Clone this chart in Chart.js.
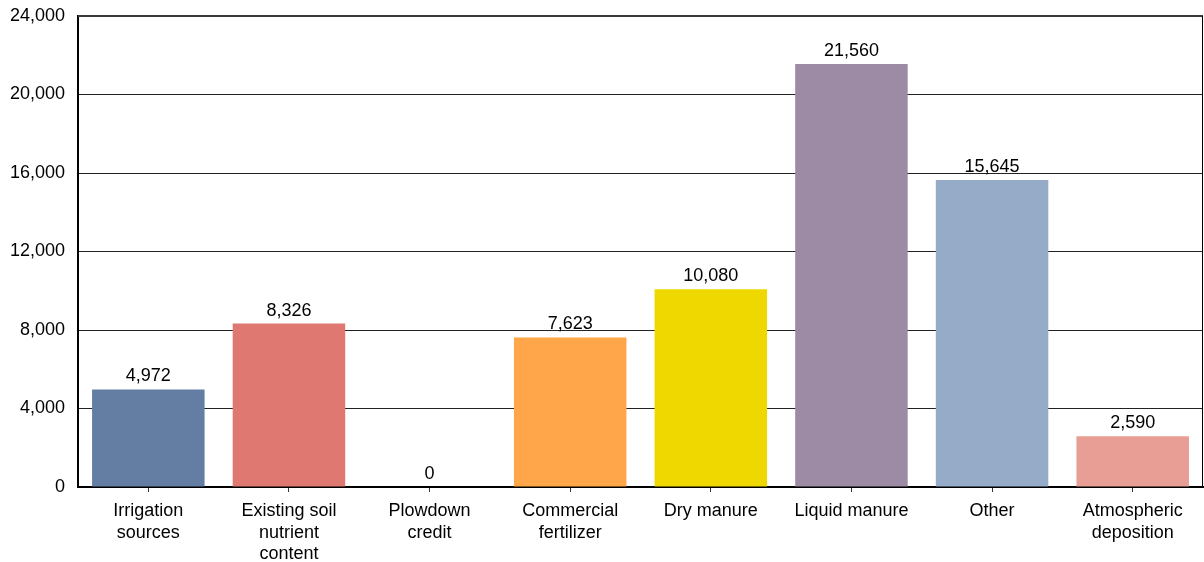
<!DOCTYPE html>
<html>
<head>
<meta charset="utf-8">
<script src="https://cdn.jsdelivr.net/npm/chart.js@4/dist/chart.umd.min.js"></script>
<style>
  html, body { margin: 0; padding: 0; background: #fff; }
  #wrap { width: 1204px; height: 562px; position: relative; }
</style>
</head>
<body>
<div id="wrap"><canvas id="chart" width="1204" height="562"></canvas></div>
<script>
const categories = [
  ["Irrigation", "sources"],
  ["Existing soil", "nutrient", "content"],
  ["Plowdown", "credit"],
  ["Commercial", "fertilizer"],
  ["Dry manure"],
  ["Liquid manure"],
  ["Other"],
  ["Atmospheric", "deposition"]
];
const values = [4972, 8326, 0, 7623, 10080, 21560, 15645, 2590];
const barColors = ["#647da3", "#e07872", "#9aa0b0", "#ffa64b", "#eed800", "#9d8aa5", "#95abc8", "#e89e94"];
const yTicks = [0, 4000, 8000, 12000, 16000, 20000, 24000];

const fmt = (n) => n.toLocaleString("en-US");
const FONT = "'Liberation Sans', Arial, sans-serif";

// value labels above bars + top/right frame
const extras = {
  id: "extras",
  afterDatasetsDraw(chart) {
    const { ctx, chartArea: a } = chart;
    const meta = chart.getDatasetMeta(0);
    ctx.save();
    ctx.fillStyle = "#000";
    ctx.font = `18px ${FONT}`;
    ctx.textAlign = "center";
    ctx.textBaseline = "bottom";
    meta.data.forEach((bar, i) => {
      ctx.fillText(fmt(values[i]), bar.x, bar.y - 4);
    });
    ctx.strokeStyle = "#3a3a3a";
    ctx.lineWidth = 2;
    ctx.beginPath();
    ctx.moveTo(a.left, a.top);
    ctx.lineTo(a.right, a.top);
    ctx.stroke();
    ctx.strokeStyle = "#000";
    ctx.lineWidth = 1;
    ctx.beginPath();
    ctx.moveTo(a.right - 0.5, a.top);
    ctx.lineTo(a.right - 0.5, a.bottom);
    ctx.stroke();
    ctx.restore();
  }
};

new Chart(document.getElementById("chart"), {
  type: "bar",
  data: {
    labels: categories,
    datasets: [{
      data: values,
      backgroundColor: barColors,
      borderWidth: 0,
      barPercentage: 0.8,
      categoryPercentage: 1.0
    }]
  },
  options: {
    responsive: false,
    animation: false,
    layout: { padding: { top: 16, right: 1, left: 0, bottom: 0 } },
    plugins: { legend: { display: false }, tooltip: { enabled: false } },
    scales: {
      x: {
        grid: { offset: false, drawOnChartArea: false, color: "#333", tickLength: 5 },
        border: { color: "#000", width: 2 },
        ticks: { color: "#000", padding: 9, maxRotation: 0, autoSkip: false,
                 font: { family: FONT, size: 18, lineHeight: 1.17 } },
        afterFit: (s) => { s.height = 75; s.paddingLeft = 0; s.paddingRight = 0; }
      },
      y: {
        min: 0, max: 24000,
        afterBuildTicks: (s) => { s.ticks = yTicks.map(v => ({ value: v })); },
        grid: { color: "#222", lineWidth: 1, drawTicks: false },
        border: { color: "#000", width: 2 },
        ticks: { color: "#000", padding: 13, callback: (v) => fmt(v),
                 font: { family: FONT, size: 18 } },
        afterFit: (s) => { s.width = 78; s.paddingTop = 0; s.paddingBottom = 0; }
      }
    }
  },
  plugins: [extras]
});
</script>
</body>
</html>
